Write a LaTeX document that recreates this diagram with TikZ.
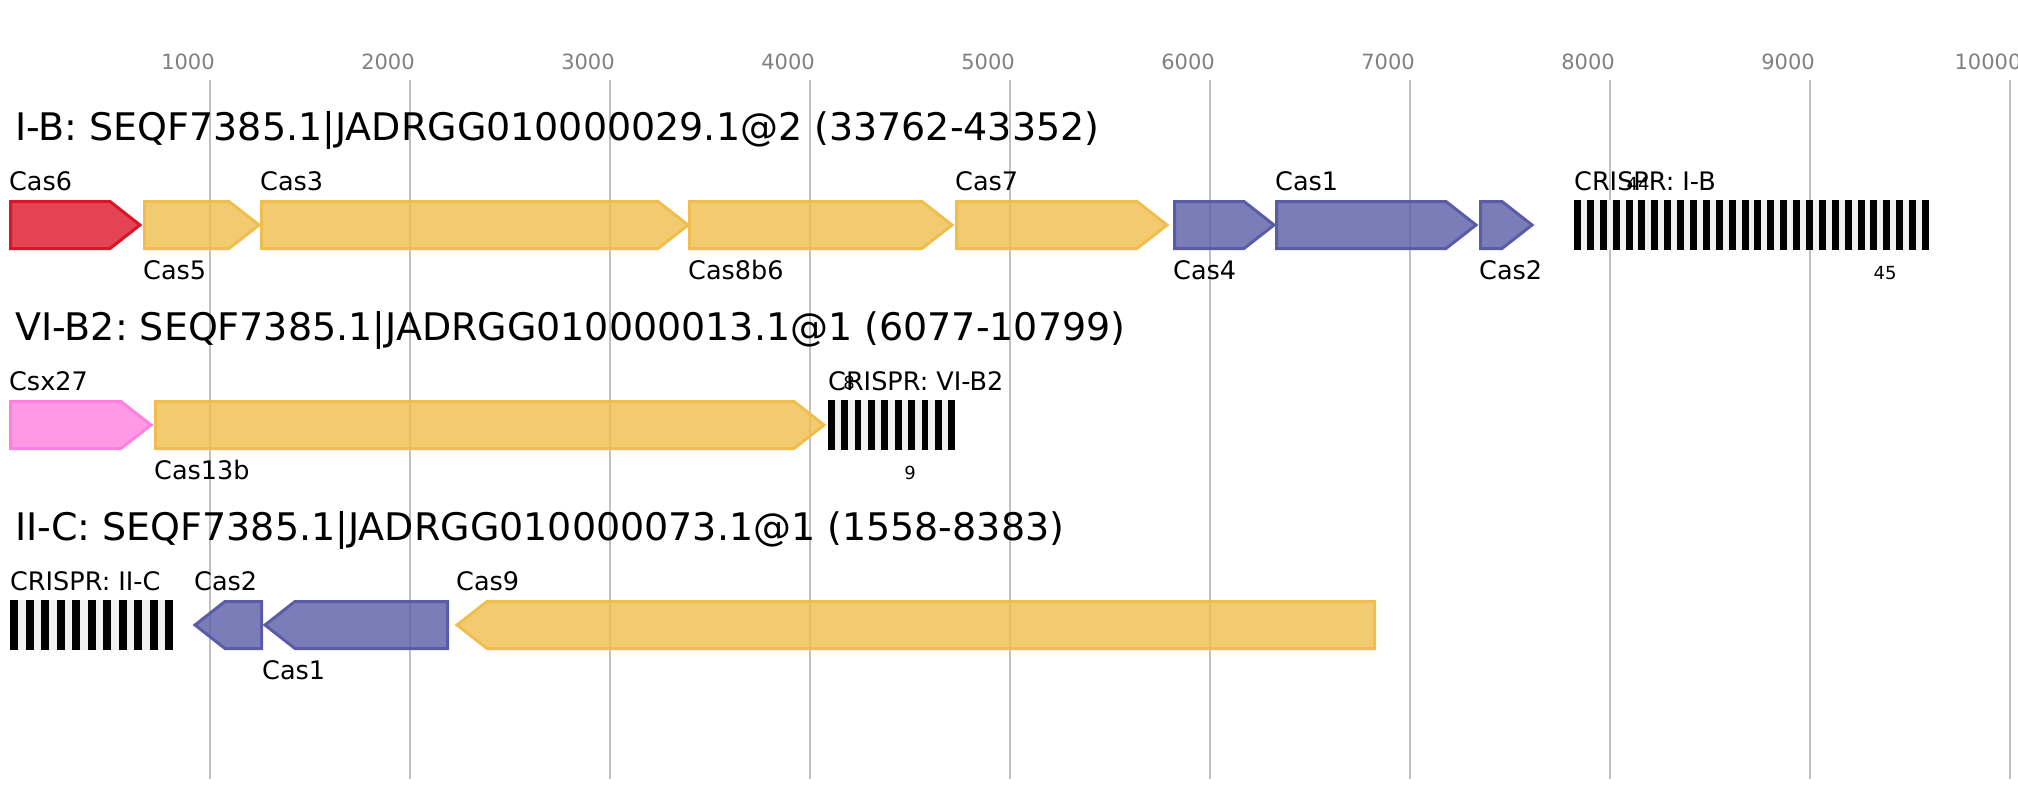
\documentclass[tikz,border=0pt]{standalone}
\usepackage{fontspec}
\setmainfont{DejaVu Sans}
\usetikzlibrary{calc}
\frenchspacing

\definecolor{casred}{RGB}{220,20,40}
\definecolor{casyellow}{RGB}{239,190,78}
\definecolor{casblue}{RGB}{90,92,168}
\definecolor{caspink}{RGB}{255,128,224}
\definecolor{gridgray}{RGB}{192,192,192}
\definecolor{ticktext}{RGB}{128,128,128}
\definecolor{spacergray}{RGB}{240,240,240}

\tikzset{
  gene/.style={draw=#1, fill=#1, fill opacity=0.8, line width=3pt},
  locustitle/.style={anchor=base west, inner sep=0pt, font=\fontsize{38}{45}\selectfont},
  genelabel/.style={anchor=base west, inner sep=0pt, font=\fontsize{25.5}{30}\selectfont},
  ticklabel/.style={anchor=base, inner sep=0pt, text=ticktext, font=\fontsize{21}{25}\selectfont},
  rptcount/.style={anchor=base, inner sep=0pt, font=\fontsize{18}{22}\selectfont},
  gridline/.style={draw=gridgray, line width=1.6pt}
}

\newcommand{\fwdgene}[4]{\draw[gene=#4] (#1,#3) -- (#2-30,#3) -- (#2,#3+23.5) -- (#2-30,#3+47) -- (#1,#3+47) -- cycle;}
\newcommand{\revgene}[4]{\draw[gene=#4] (#1,#3+23.5) -- (#1+30,#3) -- (#2,#3) -- (#2,#3+47) -- (#1+30,#3+47) -- cycle;}
\newcommand{\crispr}[5]{%
  \fill[spacergray] (#1,#3) rectangle (#2,#3+50);
  \pgfmathsetmacro{\rptstep}{(#2-#1-#5)/(#4-1)}
  \foreach \k in {1,...,#4}
    \fill[black] ({#1+(\k-1)*\rptstep},#3) rectangle +(#5,50);}

\begin{document}
\begin{tikzpicture}[x=1pt, y=-1pt]
  \useasboundingbox (0,0) rectangle (2018,800);

  \foreach \k in {1,...,10} {
    \draw[gridline] (10+200*\k,80) -- (10+200*\k,779);
    \node[ticklabel] (tick\k) at (200*\k-12,70) {\k000};
  }

  \node[locustitle] (ib) at (15,140) {I-B: SEQF7385.1|JADRGG010000029.1@2 (33762-43352)};
  \fwdgene{10.5}{140}{201.5}{casred}
  \fwdgene{144.5}{259}{201.5}{casyellow}
  \fwdgene{261.5}{688}{201.5}{casyellow}
  \fwdgene{689.5}{952}{201.5}{casyellow}
  \fwdgene{956.5}{1167}{201.5}{casyellow}
  \fwdgene{1174.5}{1274}{201.5}{casblue}
  \fwdgene{1276.5}{1476}{201.5}{casblue}
  \fwdgene{1480.5}{1532}{201.5}{casblue}
  \crispr{1574}{1929}{200}{28}{7}
  \node[genelabel] (ib-cas6) at (9,190) {Cas6};
  \node[genelabel] (ib-cas5) at (143,279) {Cas5};
  \node[genelabel] (ib-cas3) at (260,190) {Cas3};
  \node[genelabel] (ib-cas8b6) at (688,279) {Cas8b6};
  \node[genelabel] (ib-cas7) at (955,190) {Cas7};
  \node[genelabel] (ib-cas4) at (1173,279) {Cas4};
  \node[genelabel] (ib-cas1) at (1275,190) {Cas1};
  \node[genelabel] (ib-cas2) at (1479,279) {Cas2};
  \node[genelabel] (ib-crispr) at (1574,190) {CRISPR: I-B};
  \node[rptcount] (ib-first) at (1638,190) {44};
  \node[rptcount] (ib-last) at (1885,279) {45};

  \node[locustitle] (vib2) at (15,340) {VI-B2: SEQF7385.1|JADRGG010000013.1@1 (6077-10799)};
  \fwdgene{10.5}{151}{401.5}{caspink}
  \fwdgene{155.5}{824}{401.5}{casyellow}
  \crispr{828}{955}{400}{10}{6.7}
  \node[genelabel] (vib2-csx27) at (9,390) {Csx27};
  \node[genelabel] (vib2-cas13b) at (154,479) {Cas13b};
  \node[genelabel] (vib2-crispr) at (828,390) {CRISPR: VI-B2};
  \node[rptcount] (vib2-first) at (849,389) {8};
  \node[rptcount] (vib2-last) at (910,479) {9};

  \node[locustitle] (iic) at (15,540) {II-C: SEQF7385.1|JADRGG010000073.1@1 (1558-8383)};
  \crispr{10}{173}{600}{11}{8}
  \revgene{195}{261.5}{601.5}{casblue}
  \revgene{265}{447.5}{601.5}{casblue}
  \revgene{457}{1374.5}{601.5}{casyellow}
  \node[genelabel] (iic-crispr) at (10,590) {CRISPR: II-C};
  \node[genelabel] (iic-cas2) at (194,590) {Cas2};
  \node[genelabel] (iic-cas1) at (262,679) {Cas1};
  \node[genelabel] (iic-cas9) at (456,590) {Cas9};
\end{tikzpicture}
\end{document}
